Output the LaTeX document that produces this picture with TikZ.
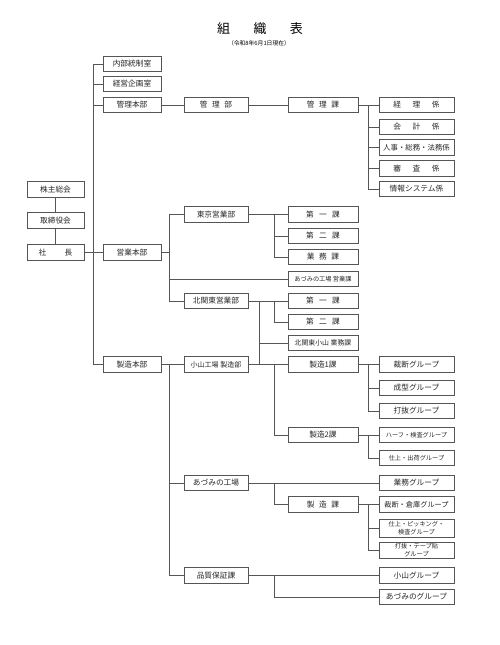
\documentclass[tikz,border=0pt]{standalone}
\usepackage{fontspec}
\setmainfont{Noto Sans CJK JP}
\definecolor{lineg}{HTML}{555555}
\begin{document}
\begin{tikzpicture}[x=1pt, y=-1pt,
  wire/.style={draw=lineg, line width=0.6pt},
  box/.style={draw=lineg, line width=0.6pt, inner sep=1pt, minimum height=15.5, text=black!85, font=\fontsize{7.7}{8.5}\selectfont},
  colL/.style={box, minimum width=57},
  colA/.style={box, minimum width=58},
  colB/.style={box, minimum width=64},
  colC/.style={box, minimum width=70},
  colD/.style={box, minimum width=75},
  tiny/.style={font=\fontsize{6.2}{7.6}\selectfont}]
\useasboundingbox (0,0) rectangle (500,645);

\node (title) [font=\fontsize{13}{15}\selectfont] at (260,29) {組\hspace{1.8em}織\hspace{1.8em}表};
\node (date) [font=\fontsize{5.8}{7}\selectfont] at (259,43) {（令和8年6月1日現在）};

\node (kabunushi) [colL] at (55.5,189.5) {株主総会};
\node (torishimari) [colL] at (55.5,220.5) {取締役会};
\node (shacho) [colL] at (55.5,252.5) {社\hspace{2.4em}長};

\node (naibu) [colA] at (132,64) {内部統制室};
\node (keiei) [colA] at (132,84) {経営企画室};
\node (kanrih) [colA] at (132,105) {管理本部};
\node (eigyoh) [colA] at (132,252.5) {営業本部};
\node (seizoh) [colA] at (132,364.5) {製造本部};

\node (kanrib) [colB] at (216,105) {管\hspace{0.6em}理\hspace{0.6em}部};
\node (tokyo) [colB] at (216,214.5) {東京営業部};
\node (kitakanto) [colB] at (216,301) {北関東営業部};
\node (oyama) [colB, font=\fontsize{7}{8}\selectfont] at (216,364.5) {小山工場 製造部};
\node (azumi) [colB] at (216,483) {あづみの工場};
\node (hinshitsu) [colB] at (216,575.5) {品質保証課};

\node (kanrika) [colC] at (323,105) {管\hspace{0.6em}理\hspace{0.6em}課};
\node (tokyo1) [colC] at (323,214.5) {第\hspace{0.7em}一\hspace{0.7em}課};
\node (tokyo2) [colC] at (323,236) {第\hspace{0.7em}二\hspace{0.7em}課};
\node (tgyomu) [colC] at (323,257) {業\hspace{0.6em}務\hspace{0.6em}課};
\node (azeigyo) [colC, tiny] at (323,279) {あづみの工場 営業課};
\node (kita1) [colC] at (323,301) {第\hspace{0.7em}一\hspace{0.7em}課};
\node (kita2) [colC] at (323,322) {第\hspace{0.7em}二\hspace{0.7em}課};
\node (kgyomu) [colC, font=\fontsize{6.9}{8}\selectfont] at (323,343) {北関東小山 業務課};
\node (seizo1) [colC] at (323,364.5) {製造1課};
\node (seizo2) [colC] at (323,435) {製造2課};
\node (seizoka) [colC] at (323,504.5) {製\hspace{0.6em}造\hspace{0.6em}課};

\node (keiri) [colD] at (416.5,105) {経\hspace{1.5em}理\hspace{1.5em}係};
\node (kaikei) [colD] at (416.5,127) {会\hspace{1.5em}計\hspace{1.5em}係};
\node (jinji) [colD, font=\fontsize{7.4}{8}\selectfont] at (416.5,147.5) {人事・総務・法務係};
\node (shinsa) [colD] at (416.5,168.5) {審\hspace{1.5em}査\hspace{1.5em}係};
\node (joho) [colD] at (416.5,189) {情報システム係};
\node (saidan) [colD] at (416.5,364.5) {裁断グループ};
\node (seikei) [colD] at (416.5,388) {成型グループ};
\node (uchinuki) [colD] at (416.5,411) {打抜グループ};
\node (half) [colD, tiny] at (416.5,435) {ハーフ・検査グループ};
\node (shiage) [colD, tiny] at (416.5,458) {仕上・出荷グループ};
\node (gyomug) [colD] at (416.5,483) {業務グループ};
\node (saisoko) [colD, font=\fontsize{7.2}{8}\selectfont] at (416.5,504.5) {裁断・倉庫グループ};
\node (picking) [colD, tiny, minimum height=18, align=center] at (416.5,528) {仕上・ピッキング・\\検査グループ};
\node (tape) [colD, tiny, minimum height=16, align=center] at (416.5,550) {打抜・テープ貼\\グループ};
\node (oyamag) [colD] at (416.5,575.5) {小山グループ};
\node (azumig) [colD] at (416.5,597) {あづみのグループ};

\coordinate (trunk) at (93,0);
\coordinate (busB) at (169,0);
\coordinate (busK) at (259,0);
\coordinate (busC) at (274,0);
\coordinate (busD) at (368.5,0);

\draw [wire] (kabunushi) -- (torishimari);
\draw [wire] (torishimari) -- (shacho);
\draw [wire] (shacho) -- (eigyoh);
\draw [wire] (naibu.west) -- (trunk |- naibu.west) |- (seizoh.west);
\foreach \n in {keiei, kanrih, eigyoh}
  \draw [wire] (trunk |- \n.west) -- (\n.west);

\draw [wire] (kanrih) -- (kanrib);
\draw [wire] (kanrib) -- (kanrika);
\draw [wire] (kanrika) -- (keiri);
\draw [wire] (busD |- keiri.west) |- (joho.west);
\foreach \n in {kaikei, jinji, shinsa}
  \draw [wire] (busD |- \n.west) -- (\n.west);

\draw [wire] (eigyoh) -- (busB |- eigyoh.east);
\draw [wire] (tokyo.west) -- (busB |- tokyo.west) |- (kitakanto.west);
\draw [wire] (busB |- azeigyo.west) -- (azeigyo.west);
\draw [wire] (tokyo) -- (tokyo1);
\draw [wire] (busC |- tokyo1.west) |- (tgyomu.west);
\draw [wire] (busC |- tokyo2.west) -- (tokyo2.west);
\draw [wire] (kitakanto) -- (kita1);
\draw [wire] (busC |- kita1.west) |- (kita2.west);
\draw [wire] (busK |- kita1.west) -- (busK |- seizo1.west);
\draw [wire] (busK |- kgyomu.west) -- (kgyomu.west);

\draw [wire] (seizoh) -- (oyama);
\draw [wire] (busB |- seizoh.east) |- (hinshitsu.west);
\draw [wire] (busB |- azumi.west) -- (azumi.west);
\draw [wire] (oyama) -- (seizo1);
\draw [wire] (busC |- seizo1.west) |- (seizo2.west);
\draw [wire] (seizo1) -- (saidan);
\draw [wire] (busD |- saidan.west) |- (uchinuki.west);
\draw [wire] (busD |- seikei.west) -- (seikei.west);
\draw [wire] (seizo2) -- (half);
\draw [wire] (busD |- half.west) |- (shiage.west);
\draw [wire] (azumi) -- (gyomug);
\draw [wire] (busC |- gyomug.west) |- (seizoka.west);
\draw [wire] (seizoka) -- (saisoko);
\draw [wire] (busD |- saisoko.west) |- (tape.west);
\draw [wire] (busD |- picking.west) -- (picking.west);
\draw [wire] (hinshitsu) -- (oyamag);
\draw [wire] (busC |- oyamag.west) |- (azumig.west);
\end{tikzpicture}
\end{document}
